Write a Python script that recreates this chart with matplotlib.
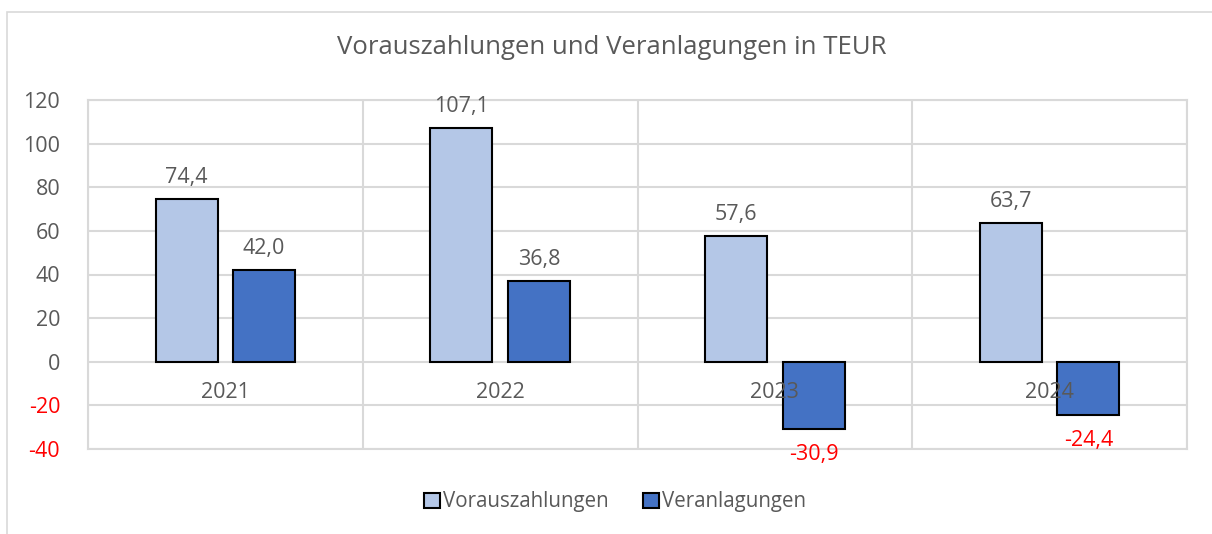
import matplotlib
matplotlib.use('Agg')
import matplotlib.pyplot as plt
import numpy as np
from matplotlib.patches import Rectangle

years = ['2021', '2022', '2023', '2024']
vorauszahlungen = [74.4, 107.1, 57.6, 63.7]
veranlagungen = [42.0, 36.8, -30.9, -24.4]
yticks = [-40, -20, 0, 20, 40, 60, 80, 100, 120]

plt.rcParams['font.family'] = ['Open Sans', 'DejaVu Sans']
gray = '#595959'
grid = '#d9d9d9'

fig = plt.figure(figsize=(12.12, 5.34), dpi=100)
ax = fig.add_axes([88/1212, 1 - 449/534, (1187-88)/1212, (449-100)/534])

# chart border (only left and top visible in the crop)
fig.patches.append(Rectangle((7/1212, -0.1), 1.2, 1 - 12/534 + 0.1, transform=fig.transFigure,
                             fill=False, edgecolor=grid, lw=1.2))

x = np.arange(len(years))
w = 0.225
off = 0.141
b1 = ax.bar(x - off, vorauszahlungen, w, color='#B4C7E7', edgecolor='black', lw=1.5,
            label='Vorauszahlungen', zorder=3)
b2 = ax.bar(x + off, veranlagungen, w, color='#4472C4', edgecolor='black', lw=1.5,
            label='Veranlagungen', zorder=3)

def fmt(v):
    return f'{v:.1f}'.replace('.', ',')

for bars, vals in ((b1, vorauszahlungen), (b2, veranlagungen)):
    for r, v in zip(bars, vals):
        cx = r.get_x() + r.get_width() / 2
        if v >= 0:
            ax.annotate(fmt(v), (cx, v), xytext=(0, 8), textcoords='offset points',
                        ha='center', va='bottom', fontsize=15.5, color=gray)
        else:
            ax.annotate(fmt(v), (cx, v), xytext=(0, -11), textcoords='offset points',
                        ha='center', va='top', fontsize=15.5, color='red')

ax.set_xlim(-0.5, len(years) - 0.5)
ax.set_ylim(-40, 120)
ax.set_yticks(yticks)
ax.set_yticklabels([str(t) for t in yticks])
for lbl, t in zip(ax.get_yticklabels(), yticks):
    lbl.set_color('red' if t < 0 else gray)
ax.tick_params(axis='y', length=0, labelsize=15.5, pad=20)
ax.set_xticks([])
ax.set_xticks(np.arange(len(years) + 1) - 0.5, minor=True)
ax.tick_params(axis='x', which='minor', length=0)
ax.grid(axis='y', color=grid, lw=1.5, zorder=0)
ax.grid(axis='x', which='minor', color=grid, lw=1.5, zorder=0)
for s in ax.spines.values():
    s.set_color(grid)
    s.set_linewidth(1.5)

# category labels just below the zero line
for xi, yr in zip(x, years):
    ax.text(xi, -14, yr, ha='center', va='center', fontsize=15.5, color=gray, zorder=4)

fig.text(612/1212, 1 - 48/534, 'Vorauszahlungen und Veranlagungen in TEUR',
         ha='center', va='center', fontsize=18.5, color=gray)

leg = fig.legend(handles=[b1, b2], loc='center', bbox_to_anchor=(615/1212, 1 - 502/534),
                 ncol=2, frameon=False, fontsize=14.8, handlelength=0.78, handleheight=0.78,
                 handletextpad=0.15, columnspacing=1.65)
for t in leg.get_texts():
    t.set_color(gray)

fig.savefig('out.png', dpi=100)
